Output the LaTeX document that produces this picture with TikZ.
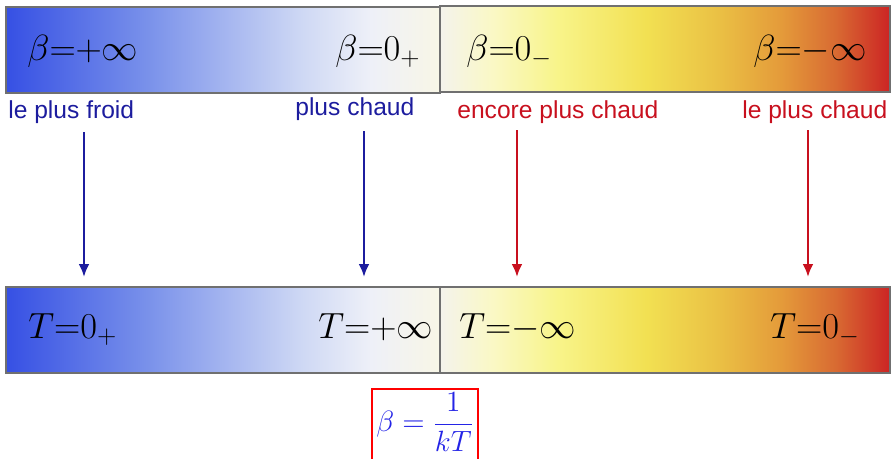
\RequirePackage{fix-cm}
\documentclass[tikz,border=0pt]{standalone}
\usepackage{amsmath}
\usepackage{fontspec}
\newfontfamily\labelfont{Liberation Sans}
\usetikzlibrary{arrows.meta,positioning}
\definecolor{coldA}{HTML}{3650E4}
\definecolor{coldB}{HTML}{7890EA}
\definecolor{coldC}{HTML}{A8B8F0}
\definecolor{coldD}{HTML}{CED8F4}
\definecolor{coldE}{HTML}{EEF0F8}
\definecolor{coldF}{HTML}{F8F6E6}
\definecolor{hotA}{HTML}{F4F3EC}
\definecolor{hotB}{HTML}{FAF8C4}
\definecolor{hotC}{HTML}{F8F48A}
\definecolor{hotD}{HTML}{F2E052}
\definecolor{hotE}{HTML}{EAC044}
\definecolor{hotF}{HTML}{E49A3A}
\definecolor{hotG}{HTML}{D86A32}
\definecolor{hotH}{HTML}{CC2424}
\definecolor{barline}{HTML}{707070}
\definecolor{coldtext}{HTML}{1C1C9E}
\definecolor{hottext}{HTML}{C8101E}
\definecolor{formula}{HTML}{2424E6}
\pgfdeclarehorizontalshading{coldbar}{100bp}{color(0bp)=(coldA); color(25bp)=(coldA);
  color(41bp)=(coldB); color(51bp)=(coldC); color(59bp)=(coldD); color(67bp)=(coldE);
  color(75bp)=(coldF); color(100bp)=(coldF)}
\pgfdeclarehorizontalshading{hotbar}{100bp}{color(0bp)=(hotA); color(25bp)=(hotA);
  color(31bp)=(hotB); color(38bp)=(hotC); color(48bp)=(hotD); color(56bp)=(hotE);
  color(63bp)=(hotF); color(69bp)=(hotG); color(75bp)=(hotH); color(100bp)=(hotH)}
\tikzset{
  bar/.style={draw=barline,line width=0.6pt},
  value/.style={anchor=base west,inner sep=0pt,font=\fontsize{20.74}{24}\selectfont},
  coldlabel/.style={anchor=base west,inner sep=0pt,text=coldtext,font=\labelfont\fontsize{14}{16}\selectfont},
  hotlabel/.style={coldlabel,text=hottext},
  coldarrow/.style={-{Latex[length=2.6mm,width=2.2mm]},draw=coldtext,line width=1.4pt},
  hotarrow/.style={coldarrow,draw=hottext},
  relation/.style={text=formula,inner xsep=2pt,inner ysep=2pt,
    font=\fontsize{16.7}{20}\selectfont},
  relframe/.style={draw=red,line width=1.1pt}
}

\begin{document}
\begin{tikzpicture}[x=0.02cm,y=-0.02cm]
  \useasboundingbox (0,0) rectangle (893,458);
  % echelle en beta
  \shade[bar,shading=coldbar] (6,7) rectangle (440,93);
  \shade[bar,shading=hotbar] (440,6) rectangle (890,92);
  \node[value] (bpinf) at (27,60) {$\beta{=}{+}\infty$};
  \node[value] (bzp) at (335,60) {$\beta{=}0_+$};
  \node[value] (bzm) at (466,60) {$\beta{=}0_-$};
  \node[value] (bminf) at (753,60) {$\beta{=}{-}\infty$};
  % echelle en T
  \shade[bar,shading=coldbar] (6,287) rectangle (440,373);
  \shade[bar,shading=hotbar] (440,287) rectangle (890,373);
  \node[value] (tzp) at (28,338) {$T{=}0_+$};
  \node[value] (tpinf) at (318,338) {$T{=}{+}\infty$};
  \node[value] (tminf) at (459,338) {$T{=}{-}\infty$};
  \node[value] (tzm) at (770,338) {$T{=}0_-$};
  % commentaires
  \node[coldlabel] (froid) at (8,118) {le plus froid};
  \node[coldlabel] (chaud) at (295,115) {plus chaud};
  \node[hotlabel] (encore) at (457,118) {encore plus chaud};
  \node[hotlabel] (pluschaud) at (742,118) {le plus chaud};
  % fleches
  \coordinate (froidend) at (84,277);
  \coordinate (chaudend) at (364,277);
  \coordinate (encoreend) at (517,277);
  \coordinate (pluschaudend) at (808,277);
  \draw[coldarrow] (froid.south -| froidend) ++(0,9) -- (froidend);
  \draw[coldarrow] (chaud.south -| chaudend) ++(0,11) -- (chaudend);
  \draw[hotarrow] (encore.south -| encoreend) ++(0,7) -- (encoreend);
  \draw[hotarrow] (pluschaud.south -| pluschaudend) ++(0,7) -- (pluschaudend);
  % relation (cadre coupe par le bord)
  \node[relation,anchor=north] (rel) at (425,389) {$\beta = \dfrac{1}{kT}$};
  \draw[relframe] (rel.south west) ++(0,40) |- (rel.north east) -- ++(0,120);
\end{tikzpicture}
\end{document}
